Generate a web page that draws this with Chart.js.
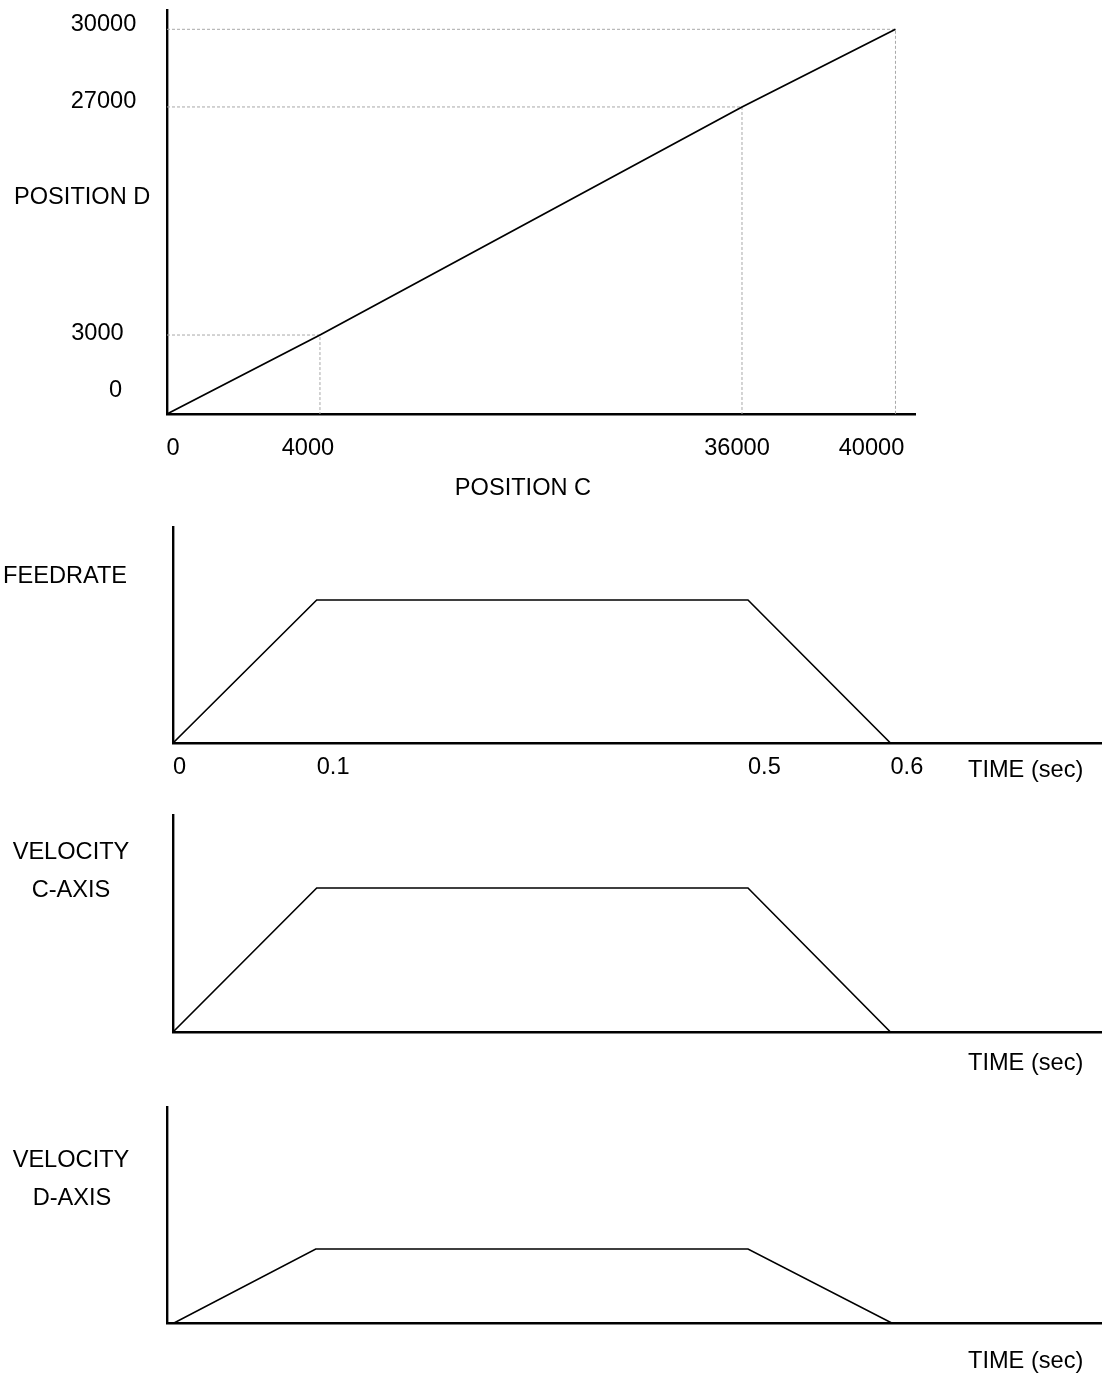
<!DOCTYPE html>
<html><head><meta charset="utf-8">
<script src="https://cdn.jsdelivr.net/npm/chart.js@4.4.1/dist/chart.umd.min.js"></script>
<style>
html,body{margin:0;padding:0;background:#fff;}
#page{position:relative;width:1102px;height:1376px;overflow:hidden;background:#fff;}
canvas{position:absolute;left:0;}
.t{position:absolute;font-family:"Liberation Sans",Arial,sans-serif;font-size:23.6px;line-height:1;color:#000;white-space:nowrap;}
.l{transform:translateY(-50%);}
.c{transform:translate(-50%,-50%);}
</style></head><body>
<div id="page">
<canvas id="c1" width="1102" height="480" style="top:0px"></canvas>
<canvas id="c2" width="1102" height="320" style="top:480px"></canvas>
<canvas id="c3" width="1102" height="260" style="top:800px"></canvas>
<canvas id="c4" width="1102" height="316" style="top:1060px"></canvas>

<div class="t l" style="left:14px;top:197px">POSITION D</div>
<div class="t c" style="left:523px;top:488px">POSITION C</div>
<div class="t l" style="left:3px;top:576px">FEEDRATE</div>
<div class="t l" style="left:968px;top:770px">TIME (sec)</div>
<div class="t c" style="left:71px;top:852px">VELOCITY</div>
<div class="t c" style="left:71px;top:890px">C-AXIS</div>
<div class="t l" style="left:968px;top:1063px">TIME (sec)</div>
<div class="t c" style="left:71px;top:1160px">VELOCITY</div>
<div class="t c" style="left:72px;top:1198px">D-AXIS</div>
<div class="t l" style="left:968px;top:1361px">TIME (sec)</div>
</div>
<script>
// ---- data ----
const positionC = [0, 4000, 36000, 40000];
const positionD = [0, 3000, 27000, 30000];
const posCLabels = ['0', '4000', '36000', '40000'];
const posDLabels = ['0', '3000', '27000', '30000'];
const timeSec = [0, 0.1, 0.5, 0.6];
const timeLabels = ['0', '0.1', '0.5', '0.6'];
const feedrate = [0, 100000, 100000, 0];
const velocityC = [0, 80000, 80000, 0];
const velocityD = [0, 60000, 60000, 0];

// ---- schematic (non-proportional) axis mapping: value breakpoints -> fraction of axis length,
//      plus small per-label placement nudges (layout only) ----
const WARPS = {
  c1x: { values: [0, 4000, 36000, 40000, 41000], fractions: [0, 0.2045, 0.7687, 0.9739, 1], ticks: positionC,
         nudge: [[6, 0], [-12, 0], [-5, 0], [-24, 0]] },
  c1y: { values: [0, 3000, 27000, 30000, 31000], fractions: [0, 0.1955, 0.760, 0.9522, 1], ticks: positionD,
         nudge: [[12, -23.5], [-6, -2], [0, -5.3], [0, -5.3]] },
  t23: { values: [0, 0.1, 0.5, 0.6, 0.75], fractions: [0, 0.1547, 0.6189, 0.7723, 1], ticks: timeSec },
  t4:  { values: [-0.005, 0, 0.1, 0.5, 0.6, 0.75], fractions: [0, 0.0075, 0.1591, 0.6214, 0.7751, 1], ticks: timeSec }
};

function warpFrac(v, w) {
  const xs = w.values, fs = w.fractions, n = xs.length - 1;
  if (v <= xs[0]) return fs[0] + (v - xs[0]) * (fs[1] - fs[0]) / (xs[1] - xs[0]);
  for (let i = 1; i <= n; i++) {
    if (v <= xs[i]) return fs[i - 1] + (v - xs[i - 1]) / (xs[i] - xs[i - 1]) * (fs[i] - fs[i - 1]);
  }
  return fs[n] + (v - xs[n]) * (fs[n] - fs[n - 1]) / (xs[n] - xs[n - 1]);
}
function unwarp(f, w) {
  const xs = w.values, fs = w.fractions, n = xs.length - 1;
  for (let i = 1; i <= n; i++) {
    if (f <= fs[i] || i === n) return xs[i - 1] + (f - fs[i - 1]) / (fs[i] - fs[i - 1]) * (xs[i] - xs[i - 1]);
  }
  return xs[n];
}

class WarpedScale extends Chart.LinearScale {
  static id = 'warped';
  static defaults = {};
  _w() { return WARPS[this.options.warpKey]; }
  determineDataLimits() {
    const w = this._w();
    this.min = w.values[0];
    this.max = w.values[w.values.length - 1];
  }
  buildTicks() {
    const w = this._w();
    this.start = this.min; this.end = this.max;
    return w.ticks.map(v => ({ value: v }));
  }
  getPixelForValue(value) {
    return this.getPixelForDecimal(warpFrac(value, this._w()));
  }
  getValueForPixel(pixel) {
    return unwarp(this.getDecimalForPixel(pixel), this._w());
  }
  _computeLabelItems(chartArea) {
    const items = super._computeLabelItems(chartArea);
    const nudge = this._w().nudge;
    if (nudge) {
      items.forEach((it, i) => {
        const d = nudge[i];
        if (d && it.options && it.options.translation) {
          it.options.translation = [it.options.translation[0] + d[0], it.options.translation[1] + d[1]];
        }
      });
    }
    return items;
  }
}
Chart.register(WarpedScale);

const FONT = { family: '"Liberation Sans", Arial, sans-serif', size: 23.6 };
const AXIS_W = 2.4;
function zeroPad(s) { s.paddingLeft = 0; s.paddingRight = 0; s.paddingTop = 0; s.paddingBottom = 0; }
function baseOptions(padTop, padRight, scales) {
  return {
    responsive: false, animation: false, events: [],
    layout: { padding: { left: 0, top: padTop, right: padRight, bottom: 0 } },
    plugins: { legend: { display: false }, tooltip: { enabled: false }, title: { display: false } },
    elements: { point: { radius: 0 }, line: { tension: 0, fill: false } },
    scales: scales
  };
}
function xy(xs, ys) { return xs.map((x, i) => ({ x: x, y: ys[i] })); }

// ---- chart 1: POSITION D vs POSITION C ----
const guides = [1, 2, 3].map(i => ({
  data: [{ x: 0, y: positionD[i] }, { x: positionC[i], y: positionD[i] }, { x: positionC[i], y: 0 }],
  borderColor: '#a8a8a8', borderWidth: 1, borderDash: [3, 2]
}));
new Chart(document.getElementById('c1'), {
  type: 'line',
  data: { datasets: [{ data: xy(positionC, positionD), borderColor: '#000', borderWidth: 1.8 }].concat(guides) },
  options: baseOptions(10, 187, {
    x: {
      type: 'warped', warpKey: 'c1x', position: 'bottom',
      grid: { display: false, drawTicks: false },
      border: { display: true, color: '#000', width: AXIS_W },
      ticks: { autoSkip: false, maxRotation: 0, minRotation: 0, padding: 20, color: '#000', font: FONT,
               callback: (v, i) => posCLabels[i] },
      afterFit: s => { s.height = 66; zeroPad(s); }
    },
    y: {
      type: 'warped', warpKey: 'c1y', position: 'left',
      grid: { display: false, drawTicks: false },
      border: { display: true, color: '#000', width: AXIS_W },
      ticks: { autoSkip: false, crossAlign: 'center', padding: 30.7, color: '#000', font: FONT,
               callback: (v, i) => posDLabels[i] },
      afterFit: s => { s.width = 167; zeroPad(s); }
    }
  })
});

// ---- time charts ----
function timeChart(id, values, warpKey, yMax, padTop, yWidth, xHeight, showTicks) {
  new Chart(document.getElementById(id), {
    type: 'line',
    data: { datasets: [{ data: xy(timeSec, values), borderColor: '#000', borderWidth: 1.6 }] },
    options: baseOptions(padTop, 0, {
      x: {
        type: 'warped', warpKey: warpKey, position: 'bottom',
        grid: { display: false, drawTicks: false },
        border: { display: true, color: '#000', width: AXIS_W },
        ticks: { display: showTicks, autoSkip: false, maxRotation: 0, minRotation: 0, align: 'start', padding: 10,
                 color: '#000', font: FONT, callback: (v, i) => timeLabels[i] },
        afterFit: s => { s.height = xHeight; zeroPad(s); }
      },
      y: {
        type: 'linear', position: 'left', min: 0, max: yMax,
        grid: { display: false, drawTicks: false },
        border: { display: true, color: '#000', width: AXIS_W },
        ticks: { display: false },
        afterFit: s => { s.width = yWidth; zeroPad(s); }
      }
    })
  });
}
timeChart('c2', feedrate, 't23', 151000, 47, 173, 57, true);
timeChart('c3', velocityC, 't23', 120550, 15, 173, 28, false);
timeChart('c4', velocityD, 't4', 175130, 47, 167, 53, false);
</script>
</body></html>
